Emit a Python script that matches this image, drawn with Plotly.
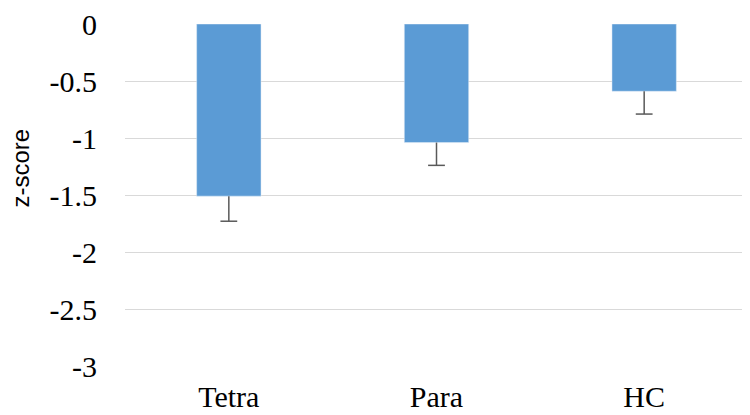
import plotly.graph_objects as go

groups = ['Tetra', 'Para', 'HC']
zscores = [-1.51, -1.04, -0.59]
err_down = [0.22, 0.20, 0.20]
tick_vals = [0, -0.5, -1, -1.5, -2, -2.5, -3]
tick_text = ['0', '-0.5', '-1', '-1.5', '-2', '-2.5', '-3']

# error whiskers, downward only
ex, ey = [], []
for g, v, e in zip(groups, zscores, err_down):
    ex += [g, g, None]
    ey += [v, v - e, None]
cap_y = [v - e for v, e in zip(zscores, err_down)]

fig = go.Figure()
fig.add_trace(go.Bar(x=groups, y=zscores, marker_color='#5B9BD5', width=0.31))
fig.add_trace(go.Scatter(x=ex, y=ey, mode='lines', line=dict(color='#595959', width=1.5),
                         hoverinfo='skip'))
fig.add_trace(go.Scatter(x=groups, y=cap_y, mode='markers',
                         marker=dict(symbol='line-ew', size=12,
                                     line=dict(color='#595959', width=1.5)),
                         hoverinfo='skip'))

fig.update_layout(
    width=750, height=415,
    margin=dict(l=117, r=10, t=16, b=57),
    plot_bgcolor='white', paper_bgcolor='white',
    showlegend=False,
    font=dict(family='Times New Roman', size=30, color='black'),
)
fig.update_xaxes(range=[-0.5, 2.5], showline=False, ticks='', ticklabelstandoff=10,
                 tickfont=dict(family='Times New Roman', size=30))
fig.update_yaxes(
    range=[-3, 0], tickvals=tick_vals, ticktext=tick_text,
    gridcolor='#d9d9d9', gridwidth=1.3, zeroline=False,
    ticklabelstandoff=27, automargin=False, ticklabeloverflow='allow',
    tickfont=dict(family='Times New Roman', size=30),
)
fig.add_annotation(text='z-score', textangle=-90, showarrow=False,
                   xref='paper', yref='paper', x=-0.167, y=0.58,
                   xanchor='center', yanchor='middle',
                   font=dict(family='Liberation Sans', size=24))

fig.write_html("out.html")
